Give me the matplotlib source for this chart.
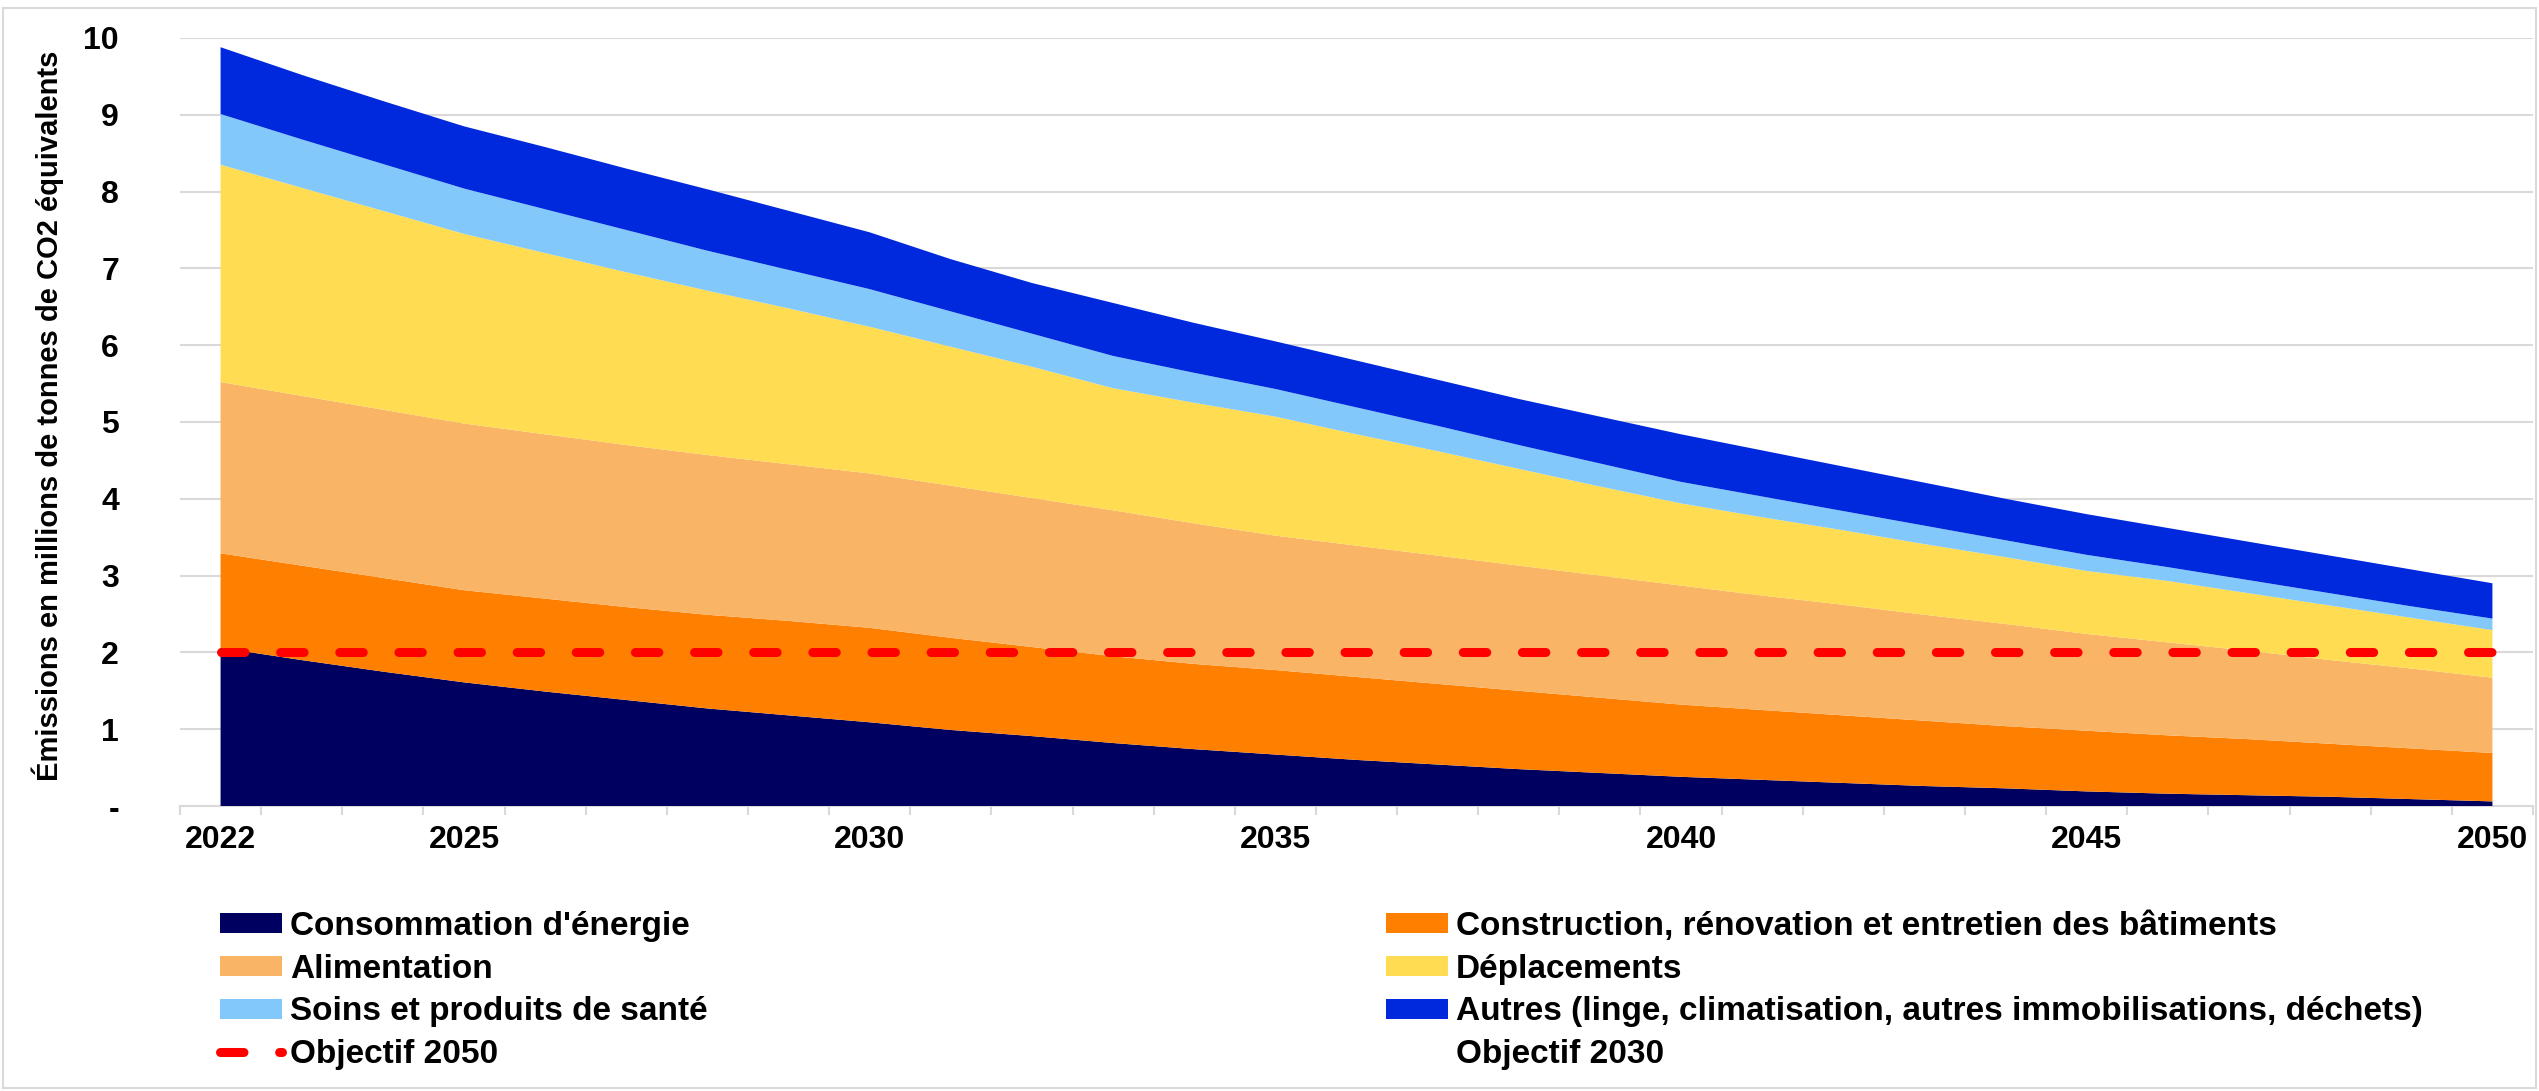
import matplotlib
matplotlib.use("Agg")
import matplotlib.pyplot as plt
from matplotlib.patches import Patch, Rectangle
from matplotlib.lines import Line2D
from matplotlib.ticker import FixedLocator

plt.rcParams['font.family'] = ['Liberation Sans', 'DejaVu Sans']
plt.rcParams['font.weight'] = 'bold'

# --- DATA (millions de tonnes CO2 eq.) ---
annees = list(range(2022, 2051))

energie = [2.06, 1.90, 1.75, 1.61, 1.49, 1.38, 1.27, 1.18, 1.09, 0.99,
           0.91, 0.82, 0.74, 0.67, 0.60, 0.54, 0.48, 0.43, 0.38, 0.34,
           0.30, 0.26, 0.23, 0.19, 0.16, 0.14, 0.12, 0.09, 0.06]
construction = [1.23, 1.23, 1.22, 1.20, 1.21, 1.21, 1.22, 1.23, 1.23, 1.20,
                1.16, 1.13, 1.11, 1.10, 1.08, 1.05, 1.02, 0.98, 0.94, 0.91,
                0.88, 0.85, 0.81, 0.79, 0.76, 0.73, 0.69, 0.66, 0.63]
alimentation = [2.23, 2.21, 2.19, 2.17, 2.14, 2.11, 2.08, 2.04, 2.01, 1.98,
                1.94, 1.90, 1.83, 1.75, 1.71, 1.67, 1.63, 1.59, 1.55, 1.49,
                1.44, 1.38, 1.33, 1.26, 1.21, 1.15, 1.09, 1.04, 0.98]
deplacements = [2.83, 2.71, 2.59, 2.47, 2.36, 2.25, 2.14, 2.03, 1.91, 1.81,
                1.71, 1.59, 1.57, 1.55, 1.45, 1.36, 1.26, 1.16, 1.07, 1.02,
                0.97, 0.92, 0.87, 0.82, 0.80, 0.75, 0.71, 0.66, 0.62]
soins = [0.66, 0.63, 0.61, 0.59, 0.57, 0.55, 0.52, 0.50, 0.49, 0.46,
         0.43, 0.42, 0.39, 0.36, 0.35, 0.33, 0.31, 0.30, 0.28, 0.27,
         0.25, 0.24, 0.22, 0.21, 0.18, 0.17, 0.16, 0.15, 0.15]
autres = [0.87, 0.84, 0.82, 0.81, 0.81, 0.80, 0.80, 0.77, 0.74, 0.68,
          0.66, 0.69, 0.65, 0.62, 0.61, 0.60, 0.60, 0.61, 0.62, 0.60,
          0.58, 0.56, 0.54, 0.53, 0.51, 0.50, 0.49, 0.48, 0.46]
objectif_2050 = 2.0

labels = ["Consommation d'énergie",
          "Construction, rénovation et entretien des bâtiments",
          "Alimentation",
          "Déplacements",
          "Soins et produits de santé",
          "Autres (linge, climatisation, autres immobilisations, déchets)"]
couleurs = ["#000060", "#FF8000", "#F9B465", "#FFDC52", "#82C8FA", "#0028DC"]
annees_affichees = [2022, 2025, 2030, 2035, 2040, 2045, 2050]

W, H = 2539, 1091
fig = plt.figure(figsize=(W / 100, H / 100), dpi=100)
fig.set_facecolor("white")

# plot area (pixels -> fractions)
x0, x1, y_top, y_bot = 180, 2533, 38, 806
ax = fig.add_axes([x0 / W, 1 - y_bot / H, (x1 - x0) / W, (y_bot - y_top) / H])

ax.stackplot(annees, energie, construction, alimentation, deplacements, soins, autres,
             colors=couleurs, linewidth=0, zorder=2)

# objectif line: thick red dashes with round caps
lw_obj = 6.5
dash_obj = (2.6, 3.95)
ax.plot([annees[0], annees[-1]], [objectif_2050, objectif_2050], color="#FF0000",
        linewidth=lw_obj, dashes=dash_obj, dash_capstyle="round", zorder=3)

ax.set_xlim(annees[0] - 0.5, annees[-1] + 0.5)
ax.set_ylim(0, 10)

# grid / spines
ax.set_yticks(range(0, 11))
ax.set_yticklabels(["-"] + [str(i) for i in range(1, 11)])
ax.yaxis.grid(True, color="#D9D9D9", linewidth=1.5, zorder=0)
ax.set_axisbelow(True)
for s in ["left", "right", "top"]:
    ax.spines[s].set_visible(False)
ax.spines["bottom"].set_color("#D9D9D9")
ax.spines["bottom"].set_linewidth(1.5)
ax.spines["bottom"].set_zorder(1)

ax.set_xticks(annees_affichees)
ax.set_xticklabels([str(a) for a in annees_affichees])
ax.xaxis.set_minor_locator(FixedLocator([a - 0.5 for a in annees] + [annees[-1] + 0.5]))
ax.tick_params(axis="x", which="major", length=0, pad=14, labelsize=23)
ax.tick_params(axis="x", which="minor", length=6.5, width=1.5, color="#D9D9D9")
ax.tick_params(axis="y", length=0, pad=44, labelsize=23)

fig.text(48 / W, 1 - 416 / H, "Émissions en millions de tonnes de CO2 équivalents",
         rotation=90, ha="center", va="center", fontsize=21, fontweight="bold")

# legend: two columns placed separately
h = [Patch(facecolor=c, edgecolor="none") for c in couleurs]
obj50 = Line2D([], [], color="#FF0000", linewidth=lw_obj, dashes=dash_obj,
               dash_capstyle="round")
obj30 = Line2D([], [], color="none")

leg_kw = dict(frameon=False, fontsize=24, borderpad=0, borderaxespad=0,
              handlelength=1.85, handleheight=0.55, handletextpad=0.25,
              labelspacing=0.35, loc="upper left")
leg1 = fig.legend([h[0], h[2], h[4], obj50],
                  [labels[0], labels[2], labels[4], "Objectif 2050"],
                  bbox_to_anchor=(220 / W, 1 - 911 / H), **leg_kw)
leg2 = fig.legend([h[1], h[3], h[5], obj30],
                  [labels[1], labels[3], labels[5], "Objectif 2030"],
                  bbox_to_anchor=(1386 / W, 1 - 911 / H), **leg_kw)

# chart border
fig.patches.append(Rectangle((3 / W, 3 / H), (W - 6) / W, (H - 11) / H,
                             transform=fig.transFigure, fill=False,
                             edgecolor="#D9D9D9", linewidth=1.5))

fig.savefig("out.png", dpi=100, facecolor="white")
